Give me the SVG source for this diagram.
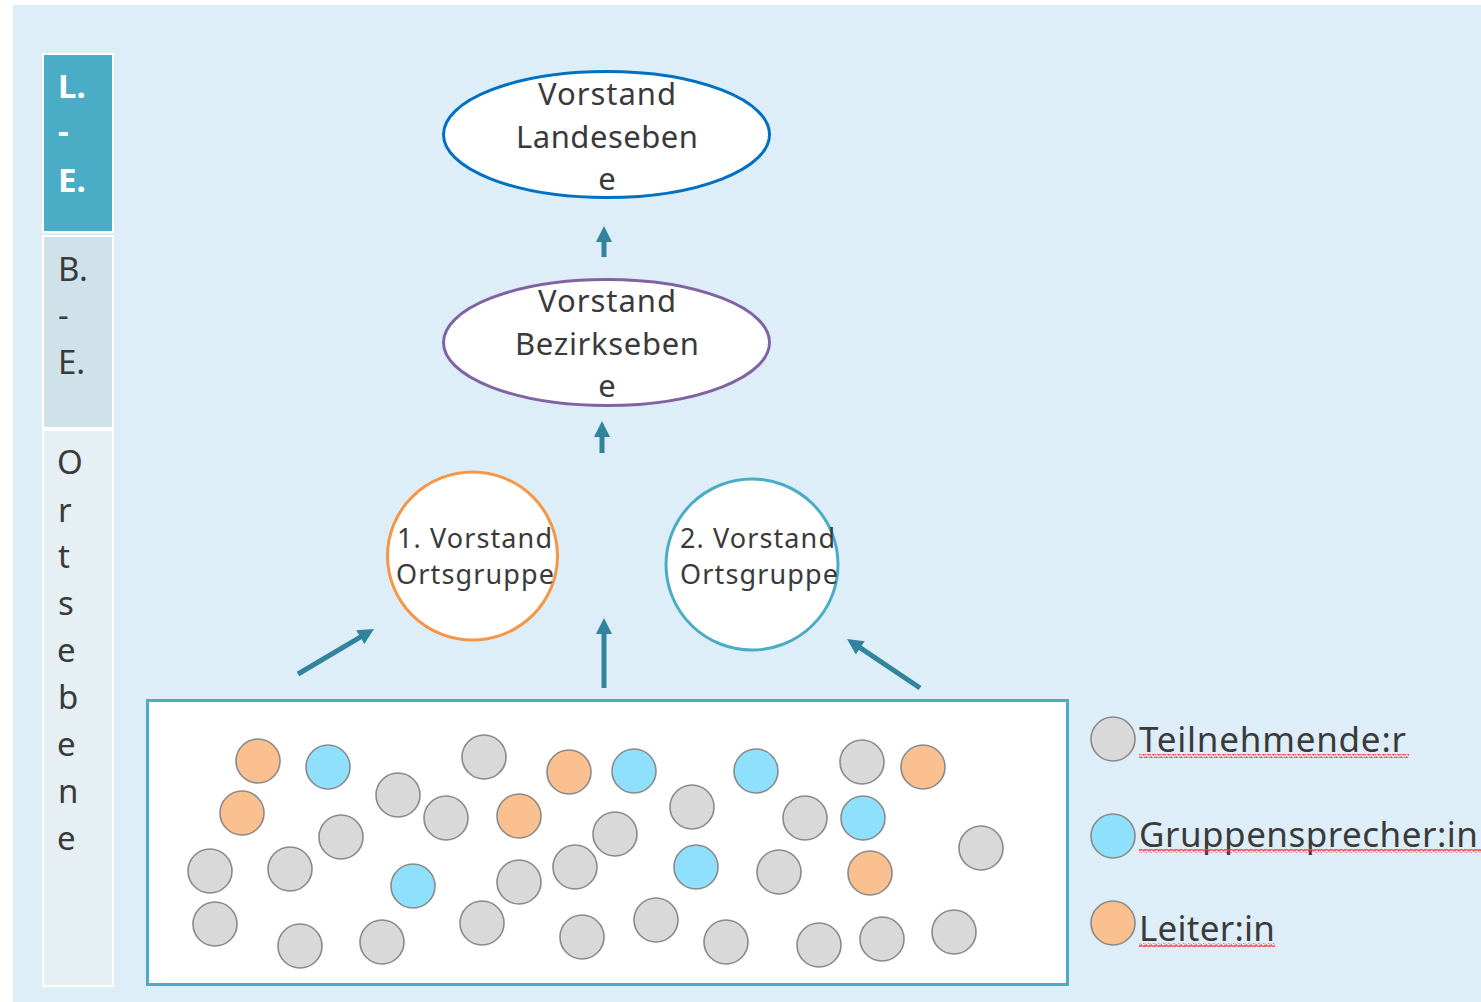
<svg xmlns="http://www.w3.org/2000/svg" width="1481" height="1002" viewBox="0 0 1481 1002">
<style>
text{font-family:"Noto Sans","Open Sans","Liberation Sans",sans-serif;fill:#3a3a3a}
.col{font-size:33px}
.colw{font-size:33px;font-weight:bold;fill:#ffffff}
.big{font-size:31px;text-anchor:middle}
.mid{font-size:27px}
.leg{font-size:35px}
.g{fill:#d9d9d9;stroke:#8a8a8a;stroke-width:1.6}
.b{fill:#8fe0fc;stroke:#8a8a8a;stroke-width:1.6}
.o{fill:#fac08f;stroke:#8a8a8a;stroke-width:1.6}
.arr{stroke:#31849b;stroke-width:5;fill:none;marker-end:url(#ah)}
</style>
<defs>
<marker id="ah" markerUnits="userSpaceOnUse" markerWidth="16" markerHeight="16" refX="4" refY="8" orient="auto">
<path d="M0,0 L16,8 L0,16 z" fill="#31849b"/>
</marker>
<pattern id="sq" patternUnits="userSpaceOnUse" width="5" height="4">
<polyline points="0,3.2 1.25,0.8 3.75,3.2 5,0.8" fill="none" stroke="#ff4040" stroke-width="1.1"/>
</pattern>
</defs>
<rect x="0" y="0" width="1481" height="1002" fill="#ffffff"/>
<rect x="13" y="5" width="1468" height="997" fill="#ddeef9"/>

<g id="col-le">
<rect x="43" y="54" width="70" height="178" fill="#4bacc6" stroke="#ffffff" stroke-width="2"/>
<text class="colw" x="58" y="98">L.</text>
<text class="colw" x="58" y="143">-</text>
<text class="colw" x="58" y="192">E.</text>
</g>
<g id="col-be">
<rect x="43" y="236" width="70" height="192" fill="#cfe2ea" stroke="#ffffff" stroke-width="2"/>
<text class="col" x="58" y="281">B.</text>
<text class="col" x="58" y="327">-</text>
<text class="col" x="58" y="374">E.</text>
</g>
<g id="col-oe">
<rect x="43" y="430" width="70" height="556" fill="#e6eff3" stroke="#ffffff" stroke-width="2"/>
<text class="col" x="57" y="474">O</text>
<text class="col" x="58" y="522">r</text>
<text class="col" x="58" y="568">t</text>
<text class="col" x="58" y="615">s</text>
<text class="col" x="57" y="662">e</text>
<text class="col" x="58" y="709">b</text>
<text class="col" x="57" y="756">e</text>
<text class="col" x="58" y="803">n</text>
<text class="col" x="57" y="850">e</text>
</g>

<g id="landes">
<ellipse cx="606.5" cy="134.5" rx="163" ry="63" fill="#ffffff" stroke="#0070c0" stroke-width="3"/>
<text class="big" x="607" y="105" textLength="138">Vorstand</text>
<text class="big" x="607" y="148" textLength="182">Landeseben</text>
<text class="big" x="607" y="190">e</text>
</g>
<g id="bezirk">
<ellipse cx="606.5" cy="342.5" rx="163" ry="63" fill="#ffffff" stroke="#8064a2" stroke-width="3"/>
<text class="big" x="607" y="312" textLength="138">Vorstand</text>
<text class="big" x="607" y="355" textLength="184">Bezirkseben</text>
<text class="big" x="607" y="397">e</text>
</g>
<g id="orts1">
<ellipse cx="472.5" cy="556" rx="85" ry="84" fill="#ffffff" stroke="#f79646" stroke-width="3"/>
<text class="mid" x="397" y="548" textLength="155">1. Vorstand</text>
<text class="mid" x="396" y="584" textLength="158">Ortsgruppe</text>
</g>
<g id="orts2">
<ellipse cx="752" cy="564.5" rx="86" ry="85.5" fill="#ffffff" stroke="#4bacc6" stroke-width="3"/>
<text class="mid" x="680" y="548" textLength="155">2. Vorstand</text>
<text class="mid" x="680" y="584" textLength="158">Ortsgruppe</text>
</g>

<g id="connectors">
<line class="arr" x1="604" y1="257" x2="604" y2="238"/>
<line class="arr" x1="602" y1="453" x2="602" y2="433"/>
<line class="arr" x1="604" y1="688" x2="604" y2="630"/>
<line class="arr" x1="298" y1="674" x2="363.7" y2="635.1"/>
<line class="arr" x1="920" y1="688" x2="857" y2="645.7"/>
</g>

<g id="group">
<rect x="147.5" y="700.5" width="920" height="284" fill="#ffffff" stroke="#4bacc6" stroke-width="3"/>
<circle class="o" cx="258" cy="761" r="22"/>
<circle class="b" cx="328" cy="767" r="22"/>
<circle class="g" cx="484" cy="757" r="22"/>
<circle class="o" cx="569" cy="772" r="22"/>
<circle class="b" cx="634" cy="771" r="22"/>
<circle class="o" cx="242" cy="813" r="22"/>
<circle class="g" cx="398" cy="795" r="22"/>
<circle class="g" cx="446" cy="818" r="22"/>
<circle class="o" cx="519" cy="816" r="22"/>
<circle class="g" cx="615" cy="834" r="22"/>
<circle class="g" cx="341" cy="837" r="22"/>
<circle class="g" cx="210" cy="871" r="22"/>
<circle class="g" cx="290" cy="869" r="22"/>
<circle class="b" cx="413" cy="886" r="22"/>
<circle class="g" cx="519" cy="882" r="22"/>
<circle class="g" cx="575" cy="867" r="22"/>
<circle class="g" cx="215" cy="924" r="22"/>
<circle class="g" cx="300" cy="946" r="22"/>
<circle class="g" cx="382" cy="942" r="22"/>
<circle class="g" cx="482" cy="923" r="22"/>
<circle class="g" cx="582" cy="937" r="22"/>
<circle class="b" cx="756" cy="771" r="22"/>
<circle class="g" cx="862" cy="762" r="22"/>
<circle class="o" cx="923" cy="767" r="22"/>
<circle class="g" cx="692" cy="807" r="22"/>
<circle class="g" cx="805" cy="818" r="22"/>
<circle class="b" cx="863" cy="818" r="22"/>
<circle class="g" cx="981" cy="848" r="22"/>
<circle class="b" cx="696" cy="867" r="22"/>
<circle class="g" cx="779" cy="872" r="22"/>
<circle class="o" cx="870" cy="873" r="22"/>
<circle class="g" cx="656" cy="920" r="22"/>
<circle class="g" cx="726" cy="942" r="22"/>
<circle class="g" cx="819" cy="945" r="22"/>
<circle class="g" cx="882" cy="939" r="22"/>
<circle class="g" cx="954" cy="932" r="22"/>
</g>

<g id="legend">
<circle class="g" cx="1113" cy="739" r="22"/>
<text class="leg" x="1139" y="752" textLength="267">Teilnehmende:r</text>
<rect x="1139" y="754" width="270" height="4" fill="url(#sq)"/>
<circle class="b" cx="1113" cy="836" r="22"/>
<text class="leg" x="1139" y="847" textLength="339">Gruppensprecher:in</text>
<rect x="1139" y="849" width="342" height="4" fill="url(#sq)"/>
<circle class="o" cx="1113" cy="923" r="22"/>
<text class="leg" x="1139" y="941" textLength="136">Leiter:in</text>
<rect x="1139" y="943" width="136" height="4" fill="url(#sq)"/>
</g>
</svg>
